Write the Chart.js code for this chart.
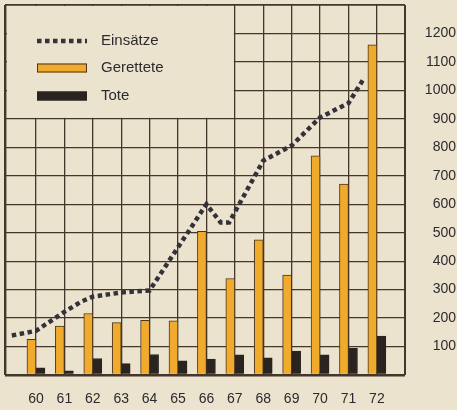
<!DOCTYPE html>
<html>
<head>
<meta charset="utf-8">
<script src="https://cdn.jsdelivr.net/npm/chart.js@4.4.1/dist/chart.umd.min.js"></script>
<style>
  html,body{margin:0;padding:0;background:#ece3cf;}
  #wrap{width:457px;height:410px;}
</style>
</head>
<body>
<div id="wrap"><canvas id="chart" width="457" height="410"></canvas></div>
<script>
/* ── data ── */
const years = [60,61,62,63,64,65,66,67,68,69,70,71,72];
const gerettete = [125,172,216,184,192,190,505,339,475,351,770,671,1160];
const tote = [25,15,58,40,72,50,56,71,60,84,71,94,137];
// dotted line is hand drawn, points sit between years in places
const einsaetzeX = [59.15,60,61,61.6,62,63,64,66,66.5,66.8,68,69,70,71,71.5];
const einsaetzeY = [139,155,222,258,275,290,297,600,536,536,753,806,905,955,1035];
const yTickLabels = [100,200,300,400,500,600,700,800,900,1000,1100,1200];
const seriesNames = ['Einsätze','Gerettete','Tote'];

/* ── look ── */
const BG = '#ece3cf';
const INK = '#2b2a2e';
const GRID = '#45362b';
const FONT = "'Liberation Sans', Arial, sans-serif";
const X_MIN = 58.91, X_MAX = 72.99;

function noOverhang(s) {
  s.paddingLeft = s.paddingRight = s.paddingTop = s.paddingBottom = 0;
}
// outer frame a bit heavier than the inner grid
function frameWidth(c, first, last) {
  if (c.index === 0) return first;
  if (c.index === c.scale.ticks.length - 1) return last;
  return 1.3;
}

/* legend drawn inside the empty upper-left box of the grid */
const legendBox = {
  id: 'legendBox',
  beforeDatasetsDraw(chart) {
    const {ctx, chartArea: a, scales: {x, y}} = chart;
    const r = x.getPixelForValue(67) - 1;
    const b = y.getPixelForValue(900) - 1;
    ctx.save();
    ctx.fillStyle = BG;
    ctx.fillRect(a.left + 2, a.top + 1, r - a.left - 2, b - a.top - 1);

    const bx = a.left + 32, bw = 50, tx = a.left + 96;
    const rows = [a.top + 36, a.top + 63, a.top + 91];
    ctx.font = '15px ' + FONT;
    ctx.textBaseline = 'middle';
    ctx.textAlign = 'left';
    chart.data.datasets.forEach((ds, i) => {
      const cy = rows[i];
      if (ds.type === 'line') {
        ctx.strokeStyle = ds.borderColor;
        ctx.lineWidth = ds.borderWidth;
        ctx.setLineDash(ds.borderDash);
        ctx.lineCap = 'butt';
        ctx.beginPath();
        ctx.moveTo(bx, cy);
        ctx.lineTo(bx + bw, cy);
        ctx.stroke();
        ctx.setLineDash([]);
      } else {
        ctx.fillStyle = ds.backgroundColor;
        ctx.fillRect(bx, cy - 4.5, bw, 9);
        ctx.strokeStyle = ds.borderColor;
        ctx.lineWidth = 1;
        ctx.strokeRect(bx + 0.5, cy - 4, bw - 1, 8);
      }
      ctx.fillStyle = INK;
      ctx.fillText(ds.label, tx, cy);
    });
    ctx.restore();
  }
};

new Chart(document.getElementById('chart'), {
  data: {
    datasets: [
      {
        type: 'line',
        label: seriesNames[0],
        data: einsaetzeX.map((v, i) => ({x: v, y: einsaetzeY[i]})),
        borderColor: '#33313a',
        borderWidth: 4.5,
        borderDash: [4.5, 3.5],
        borderCapStyle: 'butt',
        pointRadius: 0,
        tension: 0,
        fill: false,
        order: 0
      },
      {
        type: 'bar',
        label: seriesNames[1],
        data: years.map((v, i) => ({x: v, y: gerettete[i]})),
        backgroundColor: '#f0aa2c',
        borderColor: '#4a3420',
        borderWidth: 1,
        barThickness: 9,
        order: 1
      },
      {
        type: 'bar',
        label: seriesNames[2],
        data: years.map((v, i) => ({x: v, y: tote[i]})),
        backgroundColor: '#2a2420',
        borderColor: '#2a2420',
        borderWidth: 1,
        barThickness: 9,
        order: 1
      }
    ]
  },
  plugins: [legendBox],
  options: {
    responsive: false,
    animation: false,
    layout: {padding: {left: 5, top: 5, right: 1, bottom: 0}},
    plugins: {legend: {display: false}, tooltip: {enabled: false}},
    scales: {
      x: {
        type: 'linear',
        min: X_MIN, max: X_MAX,
        offset: false,
        afterBuildTicks: s => { s.ticks = [X_MIN, ...years, X_MAX].map(v => ({value: v})); },
        afterFit: s => { s.height = 35; noOverhang(s); },
        grid: {
          offset: false,
          color: GRID,
          lineWidth: c => frameWidth(c, 2.4, 2),
          drawTicks: false
        },
        border: {display: false},
        ticks: {
          callback: v => years.includes(v) ? String(v) : '',
          autoSkip: false, maxRotation: 0, padding: 16,
          color: INK, font: {family: FONT, size: 14}
        }
      },
      y: {
        position: 'right',
        min: 0, max: 1300,
        afterFit: s => { s.width = 51; noOverhang(s); },
        grid: {
          color: GRID,
          lineWidth: c => frameWidth(c, 2.4, 1.8),
          drawTicks: false
        },
        border: {display: false},
        ticks: {
          stepSize: 100,
          callback: v => yTickLabels.includes(v) ? String(v) : '',
          crossAlign: 'far', padding: 6,
          color: INK, font: {family: FONT, size: 14}
        }
      }
    }
  }
});
</script>
</body>
</html>
